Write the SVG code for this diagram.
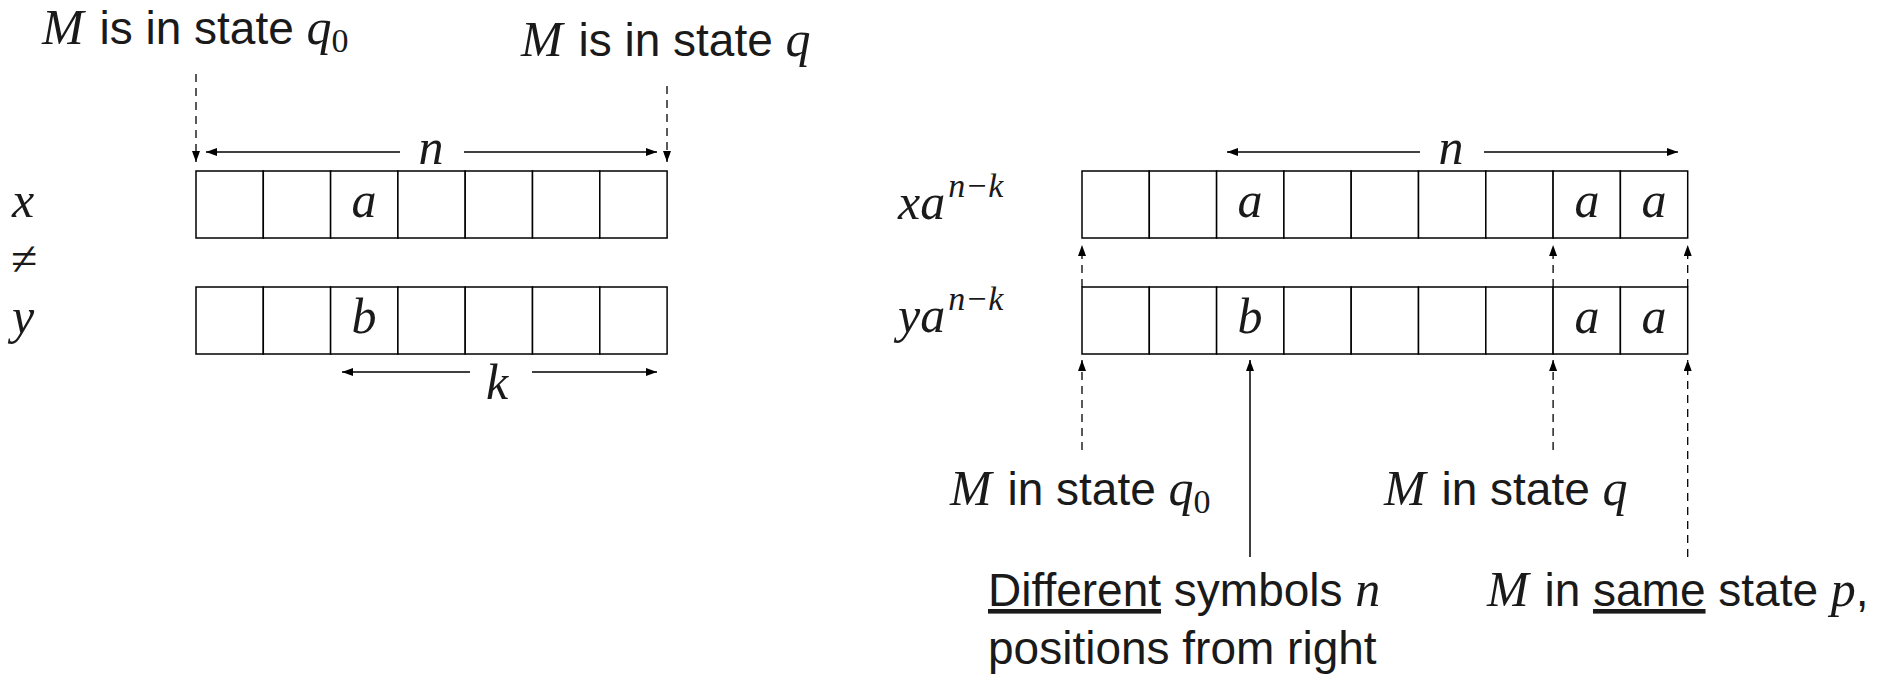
<svg xmlns="http://www.w3.org/2000/svg" width="1877" height="682" viewBox="0 0 1877 682">
<defs>
<marker id="ah" markerUnits="userSpaceOnUse" markerWidth="12" markerHeight="10" refX="11" refY="4" orient="auto">
<path d="M0,0 L11,4 L0,8 Z" fill="#000"/>
</marker>
<style>
.cell{fill:#fff;stroke:#000;stroke-width:1.5}
.sans{font-family:"Liberation Sans","DejaVu Sans",sans-serif;font-size:46px;fill:#1a1a1a}
.math{font-family:"Liberation Serif","DejaVu Serif",serif;font-style:italic;font-size:50px;fill:#1a1a1a}
.up{font-family:"Liberation Serif","DejaVu Serif",serif;font-size:50px;fill:#1a1a1a}
.sub{font-size:34px;font-style:normal}
.sup{font-size:34px}
.neq{font-size:48px}
.solid{stroke:#000;stroke-width:1.5;fill:none}
.dash{stroke:#000;stroke-width:1.3;fill:none;stroke-dasharray:8 6}
.ul{text-decoration:underline}
</style>
</defs>
<rect width="1877" height="682" fill="#fff"/>

<g id="left-tape-x">
<rect class="cell" x="196" y="171" width="67.3" height="67"/>
<rect class="cell" x="263.3" y="171" width="67.3" height="67"/>
<rect class="cell" x="330.6" y="171" width="67.3" height="67"/>
<rect class="cell" x="397.9" y="171" width="67.3" height="67"/>
<rect class="cell" x="465.2" y="171" width="67.3" height="67"/>
<rect class="cell" x="532.5" y="171" width="67.3" height="67"/>
<rect class="cell" x="599.8" y="171" width="67.3" height="67"/>
<text class="math" x="364" y="217" text-anchor="middle">a</text>
</g>
<g id="left-tape-y">
<rect class="cell" x="196" y="287" width="67.3" height="67"/>
<rect class="cell" x="263.3" y="287" width="67.3" height="67"/>
<rect class="cell" x="330.6" y="287" width="67.3" height="67"/>
<rect class="cell" x="397.9" y="287" width="67.3" height="67"/>
<rect class="cell" x="465.2" y="287" width="67.3" height="67"/>
<rect class="cell" x="532.5" y="287" width="67.3" height="67"/>
<rect class="cell" x="599.8" y="287" width="67.3" height="67"/>
<text class="math" x="364" y="333" text-anchor="middle">b</text>
</g>
<g id="left-labels">
<text class="math" x="12" y="217">x</text>
<text class="up neq" x="11" y="275">≠</text>
<text class="math" x="12" y="333">y</text>
<text x="42" y="44"><tspan class="math">M</tspan><tspan class="sans" dx="3"> is in state </tspan><tspan class="math">q</tspan><tspan class="up sub" dy="8">0</tspan></text>
<text x="521" y="56"><tspan class="math">M</tspan><tspan class="sans" dx="3"> is in state </tspan><tspan class="math">q</tspan></text>
<text class="math" x="431" y="164" text-anchor="middle">n</text>
<text class="math" x="497" y="399" text-anchor="middle">k</text>
</g>

<g id="right-tape-1">
<rect class="cell" x="1082" y="171" width="67.3" height="67"/>
<rect class="cell" x="1149.3" y="171" width="67.3" height="67"/>
<rect class="cell" x="1216.6" y="171" width="67.3" height="67"/>
<rect class="cell" x="1283.9" y="171" width="67.3" height="67"/>
<rect class="cell" x="1351.2" y="171" width="67.3" height="67"/>
<rect class="cell" x="1418.5" y="171" width="67.3" height="67"/>
<rect class="cell" x="1485.8" y="171" width="67.3" height="67"/>
<rect class="cell" x="1553.1" y="171" width="67.3" height="67"/>
<rect class="cell" x="1620.4" y="171" width="67.3" height="67"/>
<text class="math" x="1250" y="217" text-anchor="middle">a</text>
<text class="math" x="1587" y="217" text-anchor="middle">a</text>
<text class="math" x="1654" y="217" text-anchor="middle">a</text>
</g>
<g id="right-tape-2">
<rect class="cell" x="1082" y="287" width="67.3" height="67"/>
<rect class="cell" x="1149.3" y="287" width="67.3" height="67"/>
<rect class="cell" x="1216.6" y="287" width="67.3" height="67"/>
<rect class="cell" x="1283.9" y="287" width="67.3" height="67"/>
<rect class="cell" x="1351.2" y="287" width="67.3" height="67"/>
<rect class="cell" x="1418.5" y="287" width="67.3" height="67"/>
<rect class="cell" x="1485.8" y="287" width="67.3" height="67"/>
<rect class="cell" x="1553.1" y="287" width="67.3" height="67"/>
<rect class="cell" x="1620.4" y="287" width="67.3" height="67"/>
<text class="math" x="1250" y="333" text-anchor="middle">b</text>
<text class="math" x="1587" y="333" text-anchor="middle">a</text>
<text class="math" x="1654" y="333" text-anchor="middle">a</text>
</g>
<g id="right-labels">
<text class="math" x="898" y="219">xa<tspan class="sup" dx="3" dy="-22">n−k</tspan></text>
<text class="math" x="898" y="332">ya<tspan class="sup" dx="3" dy="-22">n−k</tspan></text>
<text class="math" x="1451" y="164" text-anchor="middle">n</text>
<text x="950" y="505"><tspan class="math">M</tspan><tspan class="sans" dx="3"> in state </tspan><tspan class="math">q</tspan><tspan class="up sub" dy="8">0</tspan></text>
<text x="1384" y="505"><tspan class="math">M</tspan><tspan class="sans" dx="3"> in state </tspan><tspan class="math">q</tspan></text>
<text x="988" y="606"><tspan class="sans ul">Different</tspan><tspan class="sans"> symbols </tspan><tspan class="math">n</tspan></text>
<text class="sans" x="988" y="664">positions from right</text>
<text x="1487" y="606"><tspan class="math">M</tspan><tspan class="sans" dx="3"> in </tspan><tspan class="sans ul">same</tspan><tspan class="sans"> state </tspan><tspan class="math">p</tspan><tspan class="sans">,</tspan></text>
</g>

<g id="connectors">
<line class="dash" x1="196" y1="74" x2="196" y2="162" marker-end="url(#ah)"/>
<line class="dash" x1="667" y1="86" x2="667" y2="162" marker-end="url(#ah)"/>
<line class="solid" x1="400" y1="152" x2="206" y2="152" marker-end="url(#ah)"/>
<line class="solid" x1="464" y1="152" x2="657" y2="152" marker-end="url(#ah)"/>
<line class="solid" x1="470" y1="372" x2="342" y2="372" marker-end="url(#ah)"/>
<line class="solid" x1="532" y1="372" x2="657" y2="372" marker-end="url(#ah)"/>
<line class="solid" x1="1420" y1="152" x2="1227" y2="152" marker-end="url(#ah)"/>
<line class="solid" x1="1484" y1="152" x2="1678" y2="152" marker-end="url(#ah)"/>
<line class="dash" x1="1082" y1="287" x2="1082" y2="245" marker-end="url(#ah)"/>
<line class="dash" x1="1553.1" y1="287" x2="1553.1" y2="245" marker-end="url(#ah)"/>
<line class="dash" x1="1687.7" y1="287" x2="1687.7" y2="245" marker-end="url(#ah)"/>
<line class="dash" x1="1082" y1="450" x2="1082" y2="360" marker-end="url(#ah)"/>
<line class="solid" x1="1250" y1="557" x2="1250" y2="360" marker-end="url(#ah)"/>
<line class="dash" x1="1553.1" y1="450" x2="1553.1" y2="360" marker-end="url(#ah)"/>
<line class="dash" x1="1687.7" y1="557" x2="1687.7" y2="360" marker-end="url(#ah)"/>
</g>
</svg>
